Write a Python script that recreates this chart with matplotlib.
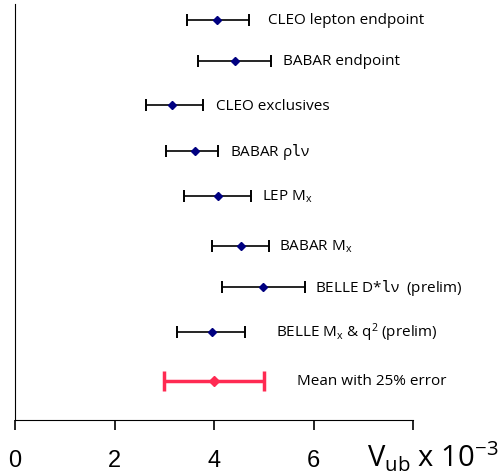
import numpy as np
import matplotlib
matplotlib.use('Agg')
import matplotlib.pyplot as plt

plt.rcParams['font.family'] = ['Open Sans', 'DejaVu Sans']
plt.rcParams['mathtext.fontset'] = 'custom'
plt.rcParams['mathtext.rm'] = 'Open Sans'
plt.rcParams['mathtext.it'] = 'Open Sans:italic'
plt.rcParams['mathtext.tt'] = 'DejaVu Sans Mono'

# measurements (Vub x 10^-3)
labels = ['CLEO lepton endpoint', 'BABAR endpoint', 'CLEO exclusives',
          r'BABAR ρ$\mathtt{l}$ν', r'LEP M$_\mathregular{x}$',
          r'BABAR M$_\mathregular{x}$', r'BELLE D*$\mathtt{l}$ν  (prelim)',
          r'BELLE M$_\mathregular{x}$ & q$^\mathregular{2}$ (prelim)']
values = [4.06, 4.42, 3.16, 3.62, 4.08, 4.54, 4.98, 3.96]
err_lo = [3.46, 3.68, 2.64, 3.03, 3.40, 3.96, 4.16, 3.26]
err_hi = [4.70, 5.14, 3.78, 4.08, 4.74, 5.10, 5.82, 4.62]
rows = [9.62, 8.63, 7.57, 6.47, 5.38, 4.18, 3.20, 2.12]
label_x = [5.08, 5.38, 4.04, 4.32, 4.96, 5.30, 6.02, 5.24]

mean_label = 'Mean with 25% error'
mean_val = 4.0
mean_lo = 3.0
mean_hi = 5.0
mean_row = 0.94
mean_label_x = 5.66

fig = plt.figure(figsize=(4.99, 4.77), dpi=100)
ax = fig.add_axes([0.030, 0.1174, 0.798, 0.8721])

vals = np.array(values)
xerr = [vals - np.array(err_lo), np.array(err_hi) - vals]
ax.errorbar(vals, rows, xerr=xerr, fmt='D', color='#000080', ms=4.5,
            ecolor='black', elinewidth=1.2, capsize=4, capthick=1.4)
for lab, lx, ly in zip(labels, label_x, rows):
    ax.text(lx, ly, lab, fontsize=11, va='center', ha='left')

ax.errorbar([mean_val], [mean_row],
            xerr=[[mean_val - mean_lo], [mean_hi - mean_val]],
            fmt='D', color='#ff2a52', ms=5.5, elinewidth=2.5, capsize=7, capthick=2.5)
ax.text(mean_label_x, mean_row, mean_label, fontsize=11, va='center', ha='left')

ax.set_xlim(0, 8)
ax.set_ylim(0, 10)
ax.spines['top'].set_visible(False)
ax.spines['right'].set_visible(False)
ax.set_yticks([])
ax.set_xticks([0, 2, 4, 6, 8])
ax.set_xticklabels(['0', '2', '4', '6', ''])
ax.tick_params(axis='x', direction='out', length=7, width=1.2, labelsize=17, pad=14)
for t in ax.get_xticklabels():
    t.set_family('Liberation Sans')

fig.text(0.735, 0.005, r'V$_\mathregular{ub}$ x 10$^\mathregular{-3}$', fontsize=21,
         ha='left', va='bottom')

fig.savefig('out.png', dpi=100)
